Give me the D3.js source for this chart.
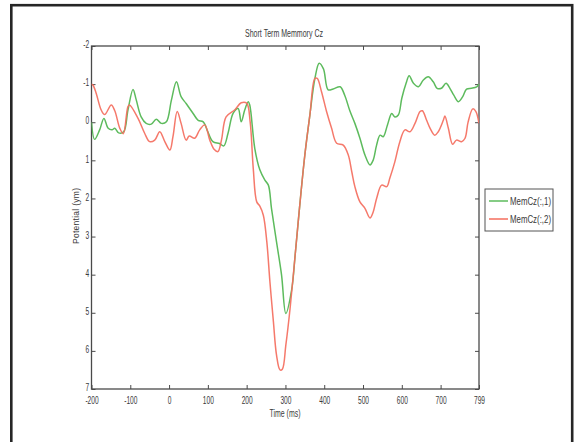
<!DOCTYPE html>
<html><head><meta charset="utf-8">
<script src="https://cdn.jsdelivr.net/npm/d3@7"></script>
<style>
html,body{margin:0;padding:0;background:#fff;}
svg{display:block;}
text{font-family:"Liberation Sans",Arial,sans-serif;fill:#3a3a3a;}
</style></head>
<body>
<script>
const title = "Short Term Memmory Cz";
const xLabel = "Time (ms)";
const yLabel = "Potential (ym)";
const seriesNames = ["MemCz(:,1)", "MemCz(:,2)"];
const xTicks = [-200,-100,0,100,200,300,400,500,600,700,799];
const yTicks = [-2,-1,0,1,2,3,4,5,6,7];

const t1 = [-200,-192,-179,-168,-157,-147,-140,-130,-117,-106,-93,-85,-72,-59,-46,-33,-20,-7,6,19,31,44,62,75,88,100,113,130,141,152,165,178,186,195,204,208,221,234,247,256,264,277,290,301,316,325,337,350,363,376,387,398,410,423,441,453,466,479,492,505,518,526,535,544,552,563,574,582,591,600,611,619,630,643,655,668,681,691,702,714,724,734,746,757,767,780,793,799];
const v1 = [0.0,0.45,0.2,-0.1,0.16,0.2,0.16,0.28,0.25,-0.32,-0.86,-0.6,-0.14,0.03,0.05,-0.08,0.03,-0.01,-0.58,-1.06,-0.67,-0.49,-0.23,-0.05,-0.01,0.25,0.51,0.56,0.62,0.29,-0.23,-0.36,-0.01,-0.32,-0.54,-0.45,0.69,1.25,1.52,1.65,2.26,3.14,4.01,5.02,4.4,3.49,2.17,0.86,-0.19,-1.15,-1.55,-1.4,-0.85,-0.87,-0.93,-0.7,-0.3,0.03,0.42,0.86,1.12,1.0,0.6,0.34,0.38,0.07,-0.23,-0.14,-0.19,-0.63,-1.02,-1.22,-1.02,-0.93,-1.1,-1.19,-1.06,-0.89,-0.89,-1.02,-0.89,-0.71,-0.54,-0.67,-0.87,-0.89,-0.93,-1.0];

const t2 = [-200,-196,-188,-175,-166,-149,-140,-127,-118,-106,-102,-80,-63,-50,-37,-24,-11,2,10,21,31,44,52,66,79,92,105,116,126,135,147,169,186,200,209,217,226,234,243,252,260,269,277,286,292,301,312,325,337,350,363,376,382,393,406,419,432,449,462,471,479,492,505,518,526,535,548,561,569,582,595,608,621,634,647,653,664,673,685,694,707,711,720,731,741,754,763,771,783,791,799];
const v2 = [-1.0,-0.97,-0.76,-0.32,-0.2,-0.45,-0.3,0.16,0.3,-0.41,-0.45,-0.1,0.29,0.51,0.47,0.25,0.51,0.73,0.38,-0.28,0.03,0.47,0.36,0.42,0.2,0.07,0.47,0.71,0.77,0.47,-0.14,-0.32,-0.51,-0.5,-0.01,1.21,2.09,2.2,2.44,3.14,4.19,5.24,6.11,6.5,6.48,5.85,4.88,3.49,2.17,0.86,-0.19,-1.15,-1.15,-0.8,-0.28,0.16,0.55,0.6,0.86,1.3,1.69,2.09,2.26,2.51,2.36,2.0,1.65,1.69,1.47,1.04,0.51,0.2,0.25,0.03,-0.28,-0.3,-0.05,0.16,0.34,0.25,-0.05,-0.16,0.16,0.58,0.47,0.51,0.42,-0.01,-0.35,-0.28,0.03];

const colors = ["#5dbb5d", "#f46e5e"];

const W = 574, H = 442;
const svg = d3.select("body").append("svg").attr("width", W).attr("height", H);

// outer frame
svg.append("rect").attr("x", 11.3).attr("y", 5.2).attr("width", 560.9).attr("height", 460)
  .attr("fill", "none").attr("stroke", "#262626").attr("stroke-width", 2.6);

const L = 91.5, R = 479, T = 46, B = 389;
const x = d3.scaleLinear().domain([-200, 799]).range([L, R]);
const y = d3.scaleLinear().domain([-2, 7]).range([T, B]);

const axisColor = "#4a4a4a";
const fmt = d => String(d);
function styleAxis(g){
  g.select(".domain").remove();
  g.selectAll("line").attr("stroke", axisColor).attr("stroke-width", 1);
  g.selectAll("text").style("font-size", "11px").attr("fill", "#3a3a3a")
    .attr("transform", "scale(0.6,1)");
}

svg.append("g").attr("transform", `translate(0,${B})`)
  .call(d3.axisBottom(x).tickValues(xTicks).tickFormat(fmt).tickSize(-4).tickPadding(7))
  .call(styleAxis);
svg.append("g").attr("transform", `translate(0,${T})`)
  .call(d3.axisTop(x).tickValues(xTicks).tickFormat("").tickSize(-4))
  .call(styleAxis);
svg.append("g").attr("transform", `translate(${L},0)`)
  .call(d3.axisLeft(y).tickValues(yTicks).tickFormat(fmt).tickSize(-4).tickPadding(4))
  .call(styleAxis)
  .call(g => g.selectAll("text").attr("dy", "0.15em"));
svg.append("g").attr("transform", `translate(${R},0)`)
  .call(d3.axisRight(y).tickValues(yTicks).tickFormat("").tickSize(-4))
  .call(styleAxis);

// plot box
svg.append("rect").attr("x", L).attr("y", T).attr("width", R - L).attr("height", B - T)
  .attr("fill", "none").attr("stroke", axisColor).attr("stroke-width", 1.3);

svg.append("clipPath").attr("id", "c").append("rect")
  .attr("x", L).attr("y", T).attr("width", R - L).attr("height", B - T);

const line = d3.line().x(d => x(d[0])).y(d => y(d[1])).curve(d3.curveCatmullRom.alpha(0.5));
const data1 = t1.map((t, i) => [t, v1[i]]);
const data2 = t2.map((t, i) => [t, v2[i]]);

const plot = svg.append("g").attr("clip-path", "url(#c)");
plot.append("path").datum(data1).attr("d", line).attr("fill", "none")
  .attr("stroke", colors[0]).attr("stroke-width", 1.5);
plot.append("path").datum(data2).attr("d", line).attr("fill", "none")
  .attr("stroke", colors[1]).attr("stroke-width", 1.5).attr("stroke-opacity", 0.92);

// title and labels
svg.append("text").attr("x", 284).attr("y", 36.5).attr("text-anchor", "middle")
  .attr("textLength", 78).attr("lengthAdjust", "spacingAndGlyphs")
  .style("font-size", "10.5px").text(title);
svg.append("text").attr("x", 285).attr("y", 417).attr("text-anchor", "middle")
  .attr("textLength", 31).attr("lengthAdjust", "spacingAndGlyphs")
  .style("font-size", "10.5px").text(xLabel);
svg.append("text").attr("transform", "translate(79,216) rotate(-90)").attr("text-anchor", "middle")
  .attr("textLength", 56).attr("lengthAdjust", "spacing")
  .style("font-size", "8.5px").text(yLabel);

// legend
const lg = svg.append("g");
lg.append("rect").attr("x", 485).attr("y", 189).attr("width", 68).attr("height", 42)
  .attr("fill", "#fff").attr("stroke", "#555").attr("stroke-width", 1);
seriesNames.forEach((n, i) => {
  const yy = 201 + i * 18;
  lg.append("line").attr("x1", 489).attr("x2", 508).attr("y1", yy).attr("y2", yy)
    .attr("stroke", colors[i]).attr("stroke-width", 1.5);
  lg.append("text").attr("x", 510).attr("y", yy + 3.5)
    .attr("textLength", 41).attr("lengthAdjust", "spacingAndGlyphs")
    .style("font-size", "10px").text(n);
});
</script>
</body></html>
